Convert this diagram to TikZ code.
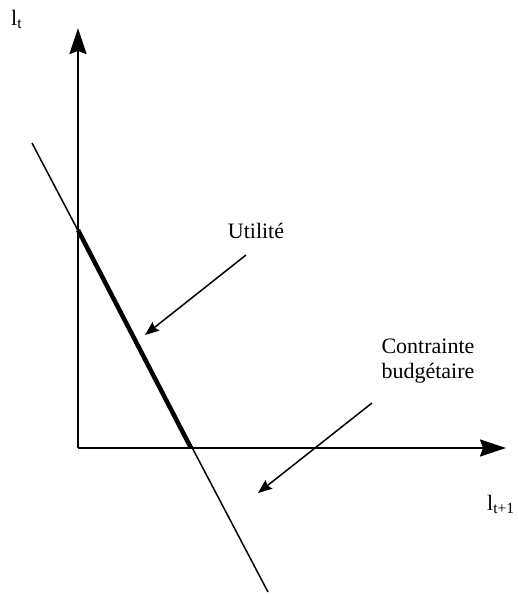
\documentclass[tikz,border=0pt]{standalone}
\usepackage{fontspec}
\setmainfont{Liberation Serif}
\usetikzlibrary{arrows.meta}

\begin{document}
\begin{tikzpicture}[x=1pt, y=-1pt,
  axe/.style={line width=2pt, -{Stealth[length=26pt, width=17pt, inset=3pt]}},
  fleche/.style={line width=1.5pt, -{Stealth[length=14pt, width=11pt, inset=2pt]}},
  lbl/.style={font=\fontsize{22}{25}\selectfont, inner sep=0pt}]

\useasboundingbox (0,0) rectangle (518,595);

\coordinate (O) at (78,448);
\coordinate (Y) at (78,28);
\coordinate (X) at (506,448);

\draw[axe] (O) -- (Y);
\draw[axe] (O) -- (X);

% contrainte budgetaire
\coordinate (B1) at (32,143);
\coordinate (B2) at (268,592);
\draw[line width=1.5pt] (B1) -- (B2);

% partie utile
\coordinate (U1) at (78,230);
\coordinate (U2) at (191,448);
\draw[line width=4.5pt] (U1) -- (U2);

\node[lbl, anchor=base west] (lt) at (11,25) {l\textsubscript{t}};
\node[lbl, anchor=base west] (lt1) at (487,510) {l\textsubscript{t+1}};

\node[lbl, anchor=base] (util) at (256,238) {Utilité};
\node[lbl, align=center, anchor=base] (contr) at (428,378) {Contrainte\\budgétaire};

\coordinate (a1) at (246,255);
\coordinate (a2) at (145,335);
\draw[fleche] (a1) -- (a2);

\coordinate (c1) at (372,403);
\coordinate (c2) at (258,493);
\draw[fleche] (c1) -- (c2);

\end{tikzpicture}
\end{document}
